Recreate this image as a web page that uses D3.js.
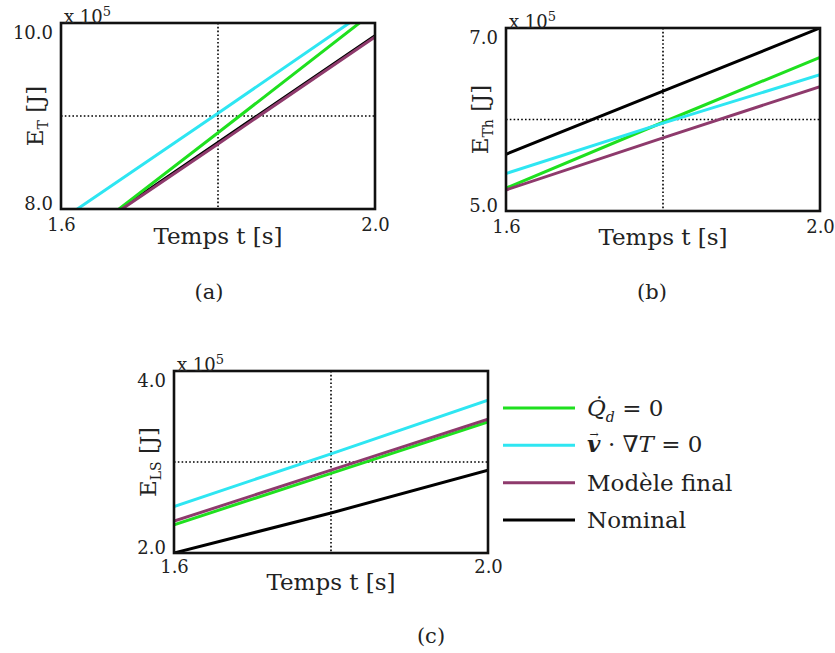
<!DOCTYPE html>
<html><head><meta charset="utf-8">
<script src="https://cdn.jsdelivr.net/npm/d3@7"></script>
<style>
body{margin:0;background:#fff}
svg{display:block}
text{font-family:"DejaVu Serif",serif;fill:#222}
</style>
</head><body><svg id="chart" width="835" height="653"></svg>
<script>
// ---------- data (energies in units of 10^5 J) ----------
const times = [1.6, 1.8, 2.0];
const xTickValues = [1.6, 2.0];

// panel (a) E_T
const aNominal = [7.565, 8.715, 9.862];
const aGreen   = [7.52, 8.82, 10.13];
const aPurple  = [7.555, 8.70, 9.85];
const aCyan    = [7.88, 9.03, 10.19];
const aYTicks  = [8.0, 10.0];

// panel (b) E_Th
const bNominal = [5.62, 6.31, 7.00];
const bGreen   = [5.25, 5.97, 6.68];
const bPurple  = [5.23, 5.80, 6.36];
const bCyan    = [5.41, 5.96, 6.49];
const bYTicks  = [5.0, 7.0];

// panel (c) E_LS
const cNominal = [2.00, 2.44, 2.91];
const cGreen   = [2.31, 2.875, 3.44];
const cPurple  = [2.35, 2.91, 3.47];
const cCyan    = [2.51, 3.09, 3.68];
const cYTicks  = [2.0, 4.0];

const seriesOrder = ["nominal", "green", "purple", "cyan"];
const colors = {green: "#1fe01f", cyan: "#2ee6f2", purple: "#8e3a6c", nominal: "#000000"};
const captions = ["(a)", "(b)", "(c)"];

// ---------- drawing ----------
const svg = d3.select("#chart");

const panels = [
  {id: "a", sub: "T", left: 61, right: 375, top: 23, bottom: 209,
   yTicks: aYTicks, data: {nominal: aNominal, green: aGreen, purple: aPurple, cyan: aCyan},
   xLabelY: 244, xTickPad: 9},
  {id: "b", sub: "Th", left: 506, right: 820, top: 28, bottom: 211,
   yTicks: bYTicks, data: {nominal: bNominal, green: bGreen, purple: bPurple, cyan: bCyan},
   xLabelY: 245, xTickPad: 9},
  {id: "c", sub: "LS", left: 174, right: 488, top: 371, bottom: 553,
   yTicks: cYTicks, data: {nominal: cNominal, green: cGreen, purple: cPurple, cyan: cCyan},
   xLabelY: 590, xTickPad: 7}
];

panels.forEach(p => {
  const x = d3.scaleLinear().domain([times[0], times[times.length - 1]]).range([p.left, p.right]);
  const y = d3.scaleLinear().domain([p.yTicks[0], p.yTicks[1]]).range([p.bottom, p.top]);
  const g = svg.append("g");

  g.append("clipPath").attr("id", "clip-" + p.id)
    .append("rect").attr("x", p.left).attr("y", p.top)
    .attr("width", p.right - p.left).attr("height", p.bottom - p.top);

  // dotted reference lines
  const xm = x(times[1]);
  const ym = y((p.yTicks[0] + p.yTicks[1]) / 2);
  g.append("line").attr("x1", xm).attr("x2", xm).attr("y1", p.top).attr("y2", p.bottom)
    .attr("stroke", "#000").attr("stroke-width", 1.6).attr("stroke-dasharray", "1.6 2.2");
  g.append("line").attr("x1", p.left).attr("x2", p.right).attr("y1", ym).attr("y2", ym)
    .attr("stroke", "#000").attr("stroke-width", 1.6).attr("stroke-dasharray", "1.6 2.2");

  // series
  const line = d3.line().x(d => x(d[0])).y(d => y(d[1]));
  const lg = g.append("g").attr("clip-path", `url(#clip-${p.id})`);
  seriesOrder.forEach(k => {
    const pts = times.map((t, i) => [t, p.data[k][i]]);
    lg.append("path").attr("d", line(pts)).attr("fill", "none")
      .attr("stroke", colors[k]).attr("stroke-width", 3);
  });

  // frame
  g.append("rect").attr("x", p.left).attr("y", p.top)
    .attr("width", p.right - p.left).attr("height", p.bottom - p.top)
    .attr("fill", "none").attr("stroke", "#111").attr("stroke-width", 2.6);

  // y axis ticks
  const ya = g.append("g").attr("transform", `translate(${p.left},0)`)
    .call(d3.axisLeft(y).tickValues(p.yTicks).tickFormat(d3.format(".1f")).tickSize(0).tickPadding(8));
  ya.select(".domain").remove();
  ya.selectAll("text").attr("font-family", "DejaVu Serif").attr("font-size", 18)
    .attr("fill", "#333").attr("dy", (d, i) => i === 0 ? "0em" : "0.86em");

  // x axis ticks
  const xa = g.append("g").attr("transform", `translate(0,${p.bottom})`)
    .call(d3.axisBottom(x).tickValues(xTickValues).tickFormat(d3.format(".1f")).tickSize(0).tickPadding(p.xTickPad));
  xa.select(".domain").remove();
  xa.selectAll("text").attr("font-family", "DejaVu Serif").attr("font-size", 18).attr("fill", "#333");

  // x10^5
  const m = g.append("text").attr("x", p.left + 3).attr("y", p.top).attr("font-size", 18).attr("fill", "#333");
  m.append("tspan").text("x 10");
  m.append("tspan").attr("dy", -7).attr("font-size", 13).text("5");

  // x label
  g.append("text").attr("x", (p.left + p.right) / 2).attr("y", p.xLabelY)
    .attr("text-anchor", "middle").attr("font-size", 23).text("Temps t [s]");

  // y label
  const yl = g.append("text").attr("text-anchor", "middle").attr("font-size", 23)
    .attr("transform", `translate(${p.left - 18},${(p.top + p.bottom) / 2}) rotate(-90)`);
  yl.append("tspan").text("E");
  yl.append("tspan").attr("font-size", 14).attr("dy", 5).text(p.sub);
  yl.append("tspan").attr("dy", -5).text(" [J]");
});

// captions
const capPos = [[209, 299], [652, 299], [431, 643]];
captions.forEach((c, i) => {
  svg.append("text").attr("x", capPos[i][0]).attr("y", capPos[i][1])
    .attr("text-anchor", "middle").attr("font-size", 21).attr("fill", "#111").text(c);
});

// legend
const legendKeys = ["green", "cyan", "purple", "nominal"];
const legY = d3.scalePoint().domain(legendKeys).range([408, 520]);
const leg = svg.append("g");
legendKeys.forEach(k => {
  leg.append("line").attr("x1", 503).attr("x2", 575).attr("y1", legY(k)).attr("y2", legY(k))
    .attr("stroke", colors[k]).attr("stroke-width", 3);
});
// label 1: Q-dot_d = 0
const t1 = leg.append("text").attr("x", 587).attr("y", legY("green") + 8).attr("font-size", 23);
t1.append("tspan").attr("font-style", "italic").text("Q\u0307");
t1.append("tspan").attr("font-style", "italic").attr("font-size", 14).attr("dy", 6).text("d");
t1.append("tspan").attr("dy", -6).text(" = 0");
// label 2: v-vec . nabla T = 0
const t2 = leg.append("text").attr("x", 587).attr("y", legY("cyan") + 7).attr("font-size", 23);
t2.append("tspan").attr("font-style", "italic").attr("font-weight", "bold").text("v");
t2.append("tspan").attr("font-size", 11).attr("dx", -11).attr("dy", -14).text("\u2192");
t2.append("tspan").attr("dx", 2).attr("dy", 14).text(" \u00B7 \u2207");
t2.append("tspan").attr("font-style", "italic").text("T");
t2.append("tspan").text(" = 0");
leg.append("text").attr("x", 587).attr("y", legY("purple") + 8).attr("font-size", 23).text("Modèle final");
leg.append("text").attr("x", 587).attr("y", legY("nominal") + 8).attr("font-size", 23).text("Nominal");
</script>
</body></html>
